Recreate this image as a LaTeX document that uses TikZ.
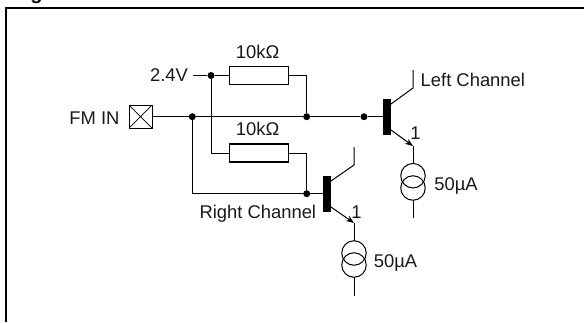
\documentclass[tikz,border=0pt]{standalone}
\usepackage{fontspec}
\setmainfont{Liberation Sans}
\usetikzlibrary{arrows.meta}
\tikzset{
 wire/.style={line width=1pt,line cap=butt},
 frameline/.style={line width=2pt},
 resbox/.style={draw,line width=1.8pt,fill=white,minimum width=59pt,minimum height=18pt,inner sep=0pt,outer sep=0pt},
 bar/.style={fill=black,draw=none,minimum width=8pt,minimum height=36pt,inner sep=0pt,outer sep=0pt},
 dotj/.style={circle,fill=black,draw=none,minimum size=7pt,inner sep=0pt},
 lab/.style={inner sep=0pt,outer sep=0pt,font=\fontsize{18.4pt}{20pt}\selectfont,text=black!90},
 srcring/.style={circle,draw,line width=1pt,minimum size=24.5pt,inner sep=0pt,outer sep=0pt},
 pin/.style={draw,line width=0.9pt,minimum size=23pt,inner sep=0pt,outer sep=0pt},
 arrw/.style={wire,-{Stealth[length=8pt,width=6pt]}},
}
\begin{document}
\begin{tikzpicture}[x=1pt,y=-1pt]
\useasboundingbox (0,0) rectangle (584,322);
\clip (0,0) rectangle (584,322);
\node[inner sep=0pt,anchor=base,font=\bfseries\fontsize{20pt}{22pt}\selectfont] (figtxt) at (36.5,-0.5) {g};
\coordinate (ftl) at (6,322); \coordinate (ftc) at (6,7.5); \coordinate (ftr) at (584,7.5);
\draw[frameline] (ftl) -- (ftc) -- (ftr);
% pin
\node[pin] (fm) at (140.5,116.7) {};
\draw[line width=0.7pt] (fm.north west) -- (fm.south east) (fm.north east) -- (fm.south west);
\node[lab,anchor=base east] (fmlab) at (119.5,124) {FM IN};
\node[lab,anchor=base east] (vlab) at (188,81) {2.4V};
% resistors
\node[resbox] (r1) at (259,75.5) {};
\node[resbox] (r2) at (259,153) {};
\node[lab,anchor=base] (r1lab) at (257.7,58.3) {10kΩ};
\node[lab,anchor=base] (r2lab) at (257.7,135.7) {10kΩ};
% junctions
\node[dotj] (j1) at (211,75.5) {};
\node[dotj] (j2) at (192.3,116.7) {};
\node[dotj] (j3) at (306.7,116.7) {};
\node[dotj] (j4) at (364,116.7) {};
\node[dotj] (j5) at (306.7,193.7) {};
% transistors
\node[bar] (q1) at (387,116.7) {};
\node[bar] (q2) at (327.3,193.7) {};
\coordinate (vs) at (192.5,75.5);
\draw[wire] (vs) -- (j1) -- (r1);
\draw[wire] (j1) |- (r2);
\draw[wire] (fm) -- (j2) -- (j3) -- (j4) -- (q1);
\draw[wire] (j2) |- (j5) -- (q2);
\draw[wire] (r1) -| (j3);
\draw[wire] (r2) -| (j5);
% Q1
\coordinate (c1a) at (391,104); \coordinate (c1b) at (413,88); \coordinate (c1c) at (413,70);
\coordinate (e1a) at (391,130); \coordinate (e1b) at (413,146);
\draw[wire] (c1a) -- (c1b) -- (c1c);
\draw[arrw] (e1a) -- (e1b);
\node[srcring] (s1a) at (413,175.7) {};
\node[srcring] (s1b) at (413,188) {};
\coordinate (s1e) at (413,218);
\draw[wire] (e1b) -- (s1a.north);
\draw[wire] (s1b.south) -- (s1e);
\node[lab,anchor=base west] (lc) at (420.7,86) {Left Channel};
\node[lab,anchor=base] (one1) at (415.5,139) {1};
\node[lab,anchor=base west] (c1) at (434.3,190.3) {50µA};
% Q2
\coordinate (c2a) at (331,181); \coordinate (c2b) at (354,165); \coordinate (c2c) at (354,147);
\coordinate (e2a) at (331,207); \coordinate (e2b) at (354,223);
\draw[wire] (c2a) -- (c2b) -- (c2c);
\draw[arrw] (e2a) -- (e2b);
\node[srcring] (s2a) at (354,253) {};
\node[srcring] (s2b) at (354,265) {};
\coordinate (s2e) at (354,295.7);
\draw[wire] (e2b) -- (s2a.north);
\draw[wire] (s2b.south) -- (s2e);
\node[lab,anchor=base west] (rc) at (199.5,218.7) {Right Channel};
\node[lab,anchor=base] (one2) at (356.5,218.3) {1};
\node[lab,anchor=base west] (c2) at (373.8,267.3) {50µA};
\end{tikzpicture}
\end{document}
